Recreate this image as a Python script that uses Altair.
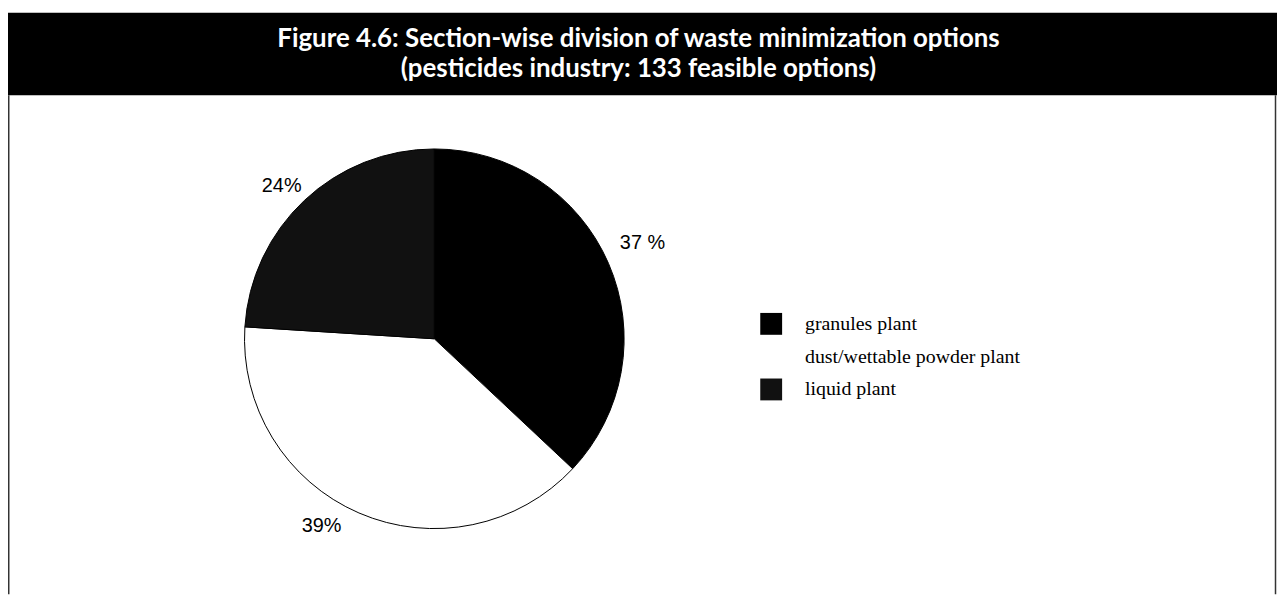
import altair as alt
import pandas as pd

# ---- data ----
title_lines = [
    "Figure 4.6: Section-wise division of waste minimization options",
    "(pesticides industry: 133 feasible options)",
]
sections = ["granules plant", "dust/wettable powder plant", "liquid plant"]
shares = [37, 39, 24]
share_labels = ["37 %", "39%", "24%"]

# ---- styling ----
colors = ["#000000", "#ffffff", "#111111"]
W, H = 1277, 588
CX, CY, R = 429, 331, 191
label_style = {  # radius, dx, dy for each slice label
    "granules plant": (225, 3, -7),
    "dust/wettable powder plant": (205, -32, 0),
    "liquid plant": (220, -3, 7),
}

df = pd.DataFrame({
    "section": sections,
    "share": shares,
    "label": share_labels,
    "idx": list(range(len(sections))),
})
one = pd.DataFrame({"k": [0]})

# header bar and frame
bar = alt.Chart(one).mark_rect(color="black").encode(
    x=alt.value(0), x2=alt.value(W), y=alt.value(3), y2=alt.value(86)
)
left_rule = alt.Chart(one).mark_rule(color="#333", strokeWidth=1.5).encode(
    x=alt.value(0.75), y=alt.value(86), y2=alt.value(H)
)
right_rule = alt.Chart(one).mark_rule(color="#333", strokeWidth=1.5).encode(
    x=alt.value(1275.5), y=alt.value(86), y2=alt.value(H)
)

title_df = pd.DataFrame({"line": title_lines, "row": [0, 1]})
title_style = dict(font="Lato", fontWeight="bold", fontSize=26, color="white",
                   align="center", baseline="middle")
title1 = alt.Chart(title_df).transform_filter("datum.row == 0").mark_text(**title_style).encode(
    x=alt.value(634.5), y=alt.value(29), text="line:N")
title2 = alt.Chart(title_df).transform_filter("datum.row == 1").mark_text(**title_style).encode(
    x=alt.value(634.5), y=alt.value(60), text="line:N")

base = alt.Chart(df).encode(
    theta=alt.Theta("share:Q", stack=True),
    order=alt.Order("idx:Q"),
)

pie = base.mark_arc(outerRadius=R, stroke="black", strokeWidth=1, x=CX, y=CY).encode(
    color=alt.Color(
        "section:N",
        scale=alt.Scale(domain=sections, range=colors),
        legend=alt.Legend(
            title=None, orient="none", legendX=757, legendY=305,
            symbolType="square", symbolSize=484, symbolStrokeWidth=0,
            symbolOpacity=1, labelLimit=0,
            labelFont="Liberation Serif", labelFontSize=20, labelColor="black",
            rowPadding=11, labelOffset=23, padding=0,
        ),
    )
)

texts = []
for s in sections:
    r, dx, dy = label_style[s]
    texts.append(
        base.mark_text(
            radius=r, dx=dx, dy=dy, x=CX, y=CY,
            font="Liberation Sans", fontSize=20, color="black",
            align="center", baseline="middle",
        ).encode(
            text=alt.condition(f"datum.section == '{s}'", "label:N", alt.value(""))
        )
    )

chart = alt.layer(bar, left_rule, right_rule, title1, title2, pie, *texts).properties(
    width=W, height=H, padding=0, autosize=alt.AutoSizeParams(type="none"), background="white"
).configure_view(stroke=None)

chart.save("out.html", embed_options={"renderer": "svg", "actions": False})
